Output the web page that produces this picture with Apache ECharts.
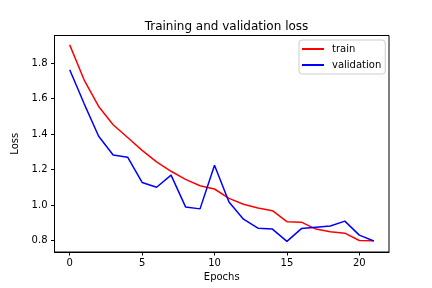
<!DOCTYPE html>
<html><head><meta charset="utf-8">
<script src="https://cdn.jsdelivr.net/npm/echarts@6/dist/echarts.min.js"></script>
<style>html,body{margin:0;padding:0;background:#fff}#c{width:432px;height:288px}</style>
</head><body><div id="c"></div>
<script>
const epochs = [0,1,2,3,4,5,6,7,8,9,10,11,12,13,14,15,16,17,18,19,20,21];
const trainLoss = [1.902,1.704,1.555,1.452,1.38,1.308,1.243,1.19,1.144,1.108,1.09,1.037,1.004,0.983,0.968,0.906,0.903,0.864,0.849,0.841,0.800,0.798];
const valLoss = [1.762,1.57,1.387,1.282,1.269,1.127,1.10,1.168,0.989,0.978,1.224,1.017,0.92,0.869,0.864,0.795,0.867,0.875,0.882,0.909,0.83,0.797];
const xTicks = [0,5,10,15,20];
const yTicks = [0.8,1.0,1.2,1.4,1.6,1.8];

const font = 'DejaVu Sans';
const chart = echarts.init(document.getElementById('c'), null, {renderer:'canvas'});
chart.setOption({
  animation:false,
  backgroundColor:'#fff',
  title:{text:'Training and validation loss', left:221.5, textAlign:'center', top:16,
    textStyle:{fontFamily:font, fontSize:12, fontWeight:'normal', color:'#000'}},
  legend:{orient:'vertical', left:299, top:40, itemWidth:22, itemHeight:2, itemGap:6,
    icon:'rect', backgroundColor:'rgba(255,255,255,0.8)', borderColor:'#ccc', borderWidth:1, borderRadius:3,
    padding:[4,4,4,3],
    textStyle:{fontFamily:font, fontSize:10, color:'#000', padding:[0,0,0,3]},
    data:['train','validation']},
  grid:{left:54.5, right:43, top:35.5, bottom:36, show:true, borderColor:'#000', borderWidth:1, containLabel:false},
  xAxis:{type:'value', min:-1.05, max:22.05, name:'Epochs', nameLocation:'middle', nameGap:18,
    nameTextStyle:{fontFamily:font, fontSize:10, color:'#000'},
    axisLine:{show:true, onZero:false, lineStyle:{color:'#000', width:1}},
    axisTick:{show:true, length:3.5, customValues:xTicks, lineStyle:{color:'#000'}},
    axisLabel:{customValues:xTicks, margin:6, fontFamily:font, fontSize:10, color:'#000'},
    splitLine:{show:false}},
  yAxis:{type:'value', min:0.735, max:1.955, name:'Loss', nameLocation:'middle', nameGap:26, nameRotate:90,
    nameTextStyle:{fontFamily:font, fontSize:10, color:'#000'},
    axisLine:{show:true, onZero:false, lineStyle:{color:'#000', width:1}},
    axisTick:{show:true, length:3.5, customValues:yTicks, lineStyle:{color:'#000'}},
    axisLabel:{customValues:yTicks, margin:7, fontFamily:font, fontSize:10, color:'#000',
      formatter:v=>v.toFixed(1)},
    splitLine:{show:false}},
  series:[
    {name:'train', type:'line', data:epochs.map((e,i)=>[e,trainLoss[i]]), showSymbol:false, symbol:'none',
      lineStyle:{color:'red', width:1.5}, itemStyle:{color:'red'}},
    {name:'validation', type:'line', data:epochs.map((e,i)=>[e,valLoss[i]]), showSymbol:false, symbol:'none',
      lineStyle:{color:'blue', width:1.5}, itemStyle:{color:'blue'}}
  ]
});
</script></body></html>
